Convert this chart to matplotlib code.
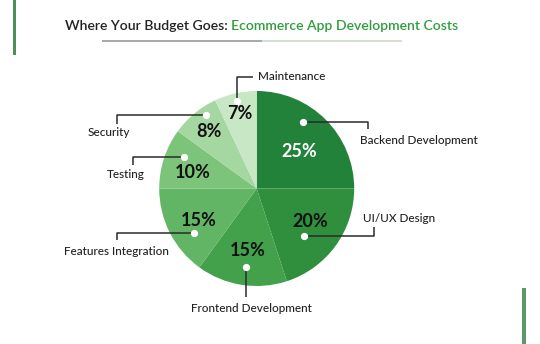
import matplotlib
matplotlib.use("Agg")
import matplotlib.pyplot as plt
import numpy as np
from matplotlib.patches import Rectangle

# ---- data ----
categories = ["Backend Development", "UI/UX Design", "Frontend Development",
              "Features Integration", "Testing", "Security", "Maintenance"]
shares = [25, 20, 15, 15, 10, 8, 7]
pct_labels = ["25%", "20%", "15%", "15%", "10%", "8%", "7%"]
title_dark = "Where Your Budget Goes: "
title_green = "Ecommerce App Development Costs"

# ---- style ----
colors = ["#22823a", "#2f8f3d", "#43a04b", "#62b564", "#7dc47b", "#a5d7a1", "#c8e7c4"]
pct_colors = ["white", "#111111", "#111111", "#111111", "#111111", "#111111", "#111111"]
FONT = ["Lato", "DejaVu Sans"]
plt.rcParams['font.family'] = FONT

W, H = 540, 344
fig = plt.figure(figsize=(W / 100, H / 100), dpi=100)
ax = fig.add_axes([0, 0, 1, 1])

def Y(py):
    return H - py

cx, cy, R = 256.7, Y(188.5), 97.5
wedges, _ = ax.pie(shares, colors=colors, startangle=90, counterclock=False,
                   center=(cx, cy), radius=R, frame=True,
                   wedgeprops=dict(linewidth=0))
ax.set_xlim(0, W)
ax.set_ylim(0, H)
ax.set_aspect('equal')
ax.axis('off')

# percentage label placement (angle deg, radius fraction)
pct_pos = [(40.7, 0.58), (-31.6, 0.64), (-97.8, 0.64), (-150.7, 0.68),
           (166.3, 0.68), (130.2, 0.76), (102.6, 0.79)]
# dot placement (angle deg, radius fraction)
dot_pos = [(55.0, 0.83), (-45.5, 0.69), (-98.1, 0.81), (-144.6, 0.79),
           (156.8, 0.81), (124.5, 0.91), (102.5, 0.92)]
# leader path after dot (pixel coords), and label anchor (x, y, ha)
leaders = [
    [(368, None), (368, 129)],
    [(374, None), (374, 227)],
    [(None, 297)],
    [(117, None), (117, 240)],
    [(133, None), (133, 165)],
    [(117, None), (117, 124)],
    [(None, 77), (253, 77)],
]
label_pos = [(360, 140.5, 'left'), (363, 218.5, 'left'), (251, 308.5, 'center'),
             (116, 251.5, 'center'), (125.5, 174.5, 'center'), (109, 133, 'center'),
             (258, 77, 'left')]

for i, cat in enumerate(categories):
    a, rf = pct_pos[i]
    ax.text(cx + rf * R * np.cos(np.radians(a)), cy + rf * R * np.sin(np.radians(a)),
            pct_labels[i], ha='center', va='center', fontsize=13,
            fontweight='bold', color=pct_colors[i])
    a, rf = dot_pos[i]
    dx = cx + rf * R * np.cos(np.radians(a))
    dy = cy + rf * R * np.sin(np.radians(a))
    xs, ys = [dx], [dy]
    px, py = dx, dy
    for (lx, ly) in leaders[i]:
        nx = lx if lx is not None else px
        ny = Y(ly) if ly is not None else py
        xs.append(nx); ys.append(ny)
        px, py = nx, ny
    ax.plot(xs, ys, color="#2b2b2b", lw=1.1, solid_capstyle='butt', zorder=3)
    ax.plot([dx], [dy], 'o', ms=4.2, color='white', mec='white', zorder=4)
    lx, ly, ha = label_pos[i]
    ax.text(lx, Y(ly), cat, ha=ha, va='center', fontsize=8.5, color="#222222",
            fontweight='medium')

# title
t1 = ax.text(65, Y(26), title_dark, ha='left', va='center', fontsize=10.1,
             fontweight='semibold', color="#222222")
ax.annotate(title_green, xy=(1, 0), xycoords=t1, xytext=(0, 0),
            textcoords='offset points', ha='left', va='bottom', fontsize=10.1,
            fontweight='semibold', color="#2e9e3e")
# underline
ax.plot([102, 262], [Y(41), Y(41)], color="#9a9a9a", lw=1.2, solid_capstyle='butt')
ax.plot([262, 402], [Y(41), Y(41)], color="#c9dccb", lw=1.2, solid_capstyle='butt')

# decorative edge strips
ax.add_patch(Rectangle((13, Y(55)), 3, 55, color="#4e8d5c", lw=0))
ax.add_patch(Rectangle((522, 0), 3.5, 56, color="#5a9a66", lw=0))

fig.savefig("out.png", dpi=100, facecolor='white')
